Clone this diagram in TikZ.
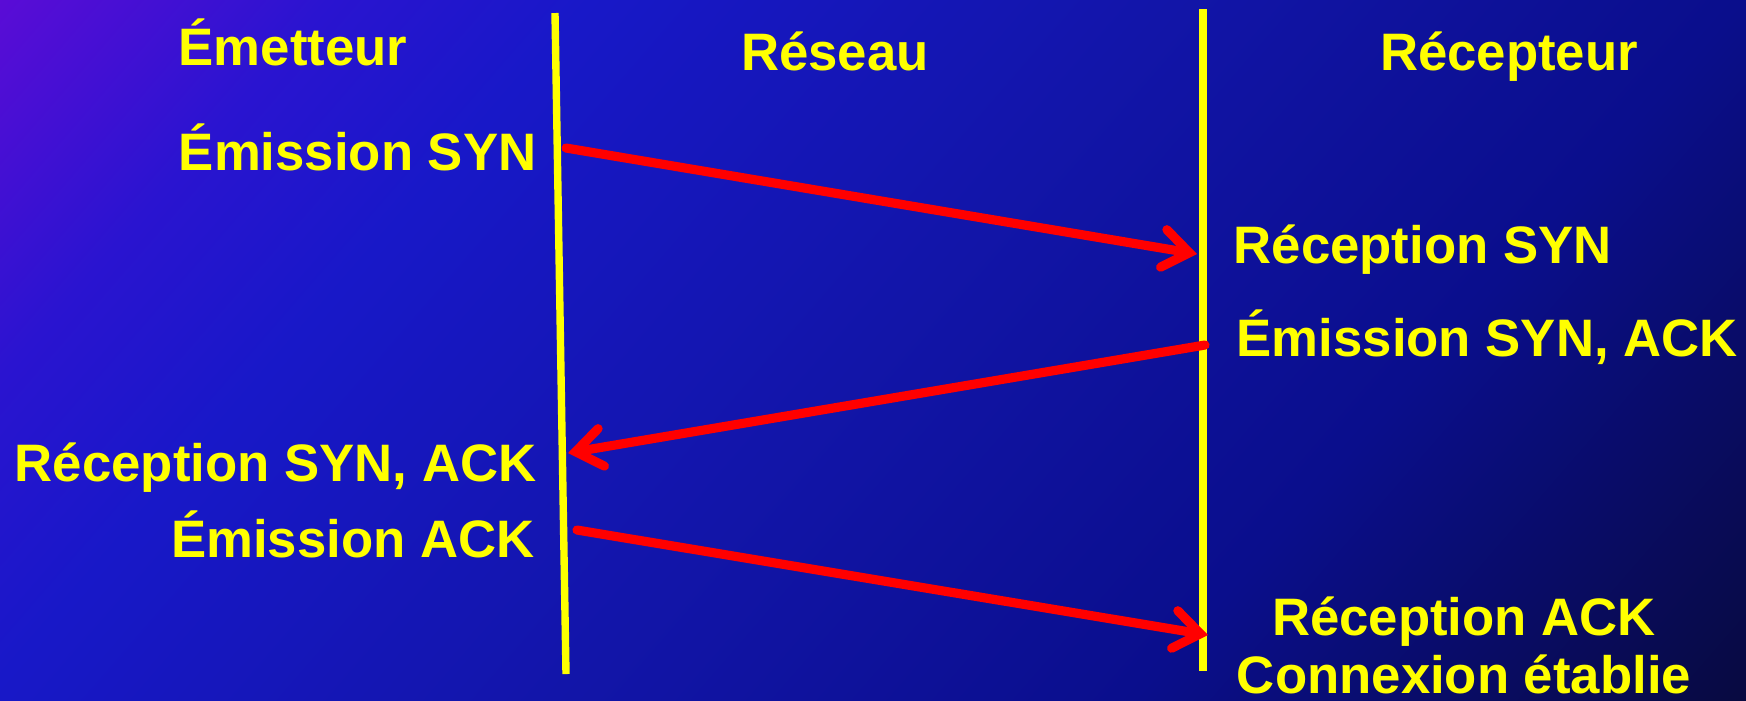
\documentclass[tikz,border=0pt]{standalone}
\usepackage{fontspec}
\setmainfont{Liberation Sans}
\usepackage{tikz}
\usetikzlibrary{arrows.meta, positioning, shadings}
\definecolor{bgPurple}{HTML}{5A0CD6}
\definecolor{bgViolet}{HTML}{2A14D0}
\definecolor{bgBlue}{HTML}{1818C8}
\definecolor{bgMid}{HTML}{1215A8}
\definecolor{bgNavy}{HTML}{0A0E8C}
\definecolor{bgDark}{HTML}{080A40}
\definecolor{lifeYellow}{HTML}{FFFF00}
\definecolor{msgRed}{HTML}{FF0000}
\pgfdeclarehorizontalshading{bgdiag}{100bp}{color(0bp)=(bgPurple); color(24.5bp)=(bgPurple);
  color(31.6bp)=(bgViolet); color(37.3bp)=(bgBlue); color(50bp)=(bgMid);
  color(62.2bp)=(bgNavy); color(75.5bp)=(bgDark); color(100bp)=(bgDark)}

\begin{document}
\begin{tikzpicture}[
  font=\fontsize{15}{18}\selectfont\bfseries,
  lbl/.style={text=lifeYellow, inner sep=0pt},
  life/.style={draw=lifeYellow, line width=2.1pt},
  msg/.style={draw=msgRed, line width=2.6pt, line cap=round,
              -{Straight Barb[length=2.6mm, width=3.8mm, line cap=round]}}
]
\useasboundingbox (0,0) rectangle (17.46,-7);
\begin{scope}
  \clip (0,0) rectangle (17.46,-7);
  \shade[shading=bgdiag, shading angle=-41] (0,5.23) rectangle (17.46,-12.23);
\end{scope}

% lignes de vie
\coordinate (emTop) at (5.55,-0.13);
\coordinate (emBot) at (5.66,-6.74);
\coordinate (reTop) at (12.03,-0.09);
\coordinate (reBot) at (12.03,-6.71);
\draw[life] (emTop) -- (emBot);
\draw[life] (reTop) -- (reBot);

% titres
\node[lbl, anchor=base west] (emetteur) at (1.78,-0.65) {Émetteur};
\node[lbl, anchor=base] (reseau) at (8.35,-0.70) {Réseau};
\node[lbl, anchor=base] (recepteur) at (15.09,-0.70) {Récepteur};

% evenements
\node[lbl, anchor=base east] (emSyn) at (5.37,-1.70) {Émission SYN};
\node[lbl, anchor=base west] (recSyn) at (12.33,-2.63) {Réception SYN};
\node[lbl, anchor=base west] (emSynAck) at (12.36,-3.56) {Émission SYN, ACK};
\node[lbl, anchor=base east] (recSynAck) at (5.37,-4.81) {Réception SYN, ACK};
\node[lbl, anchor=base east] (emAck) at (5.35,-5.57) {Émission ACK};
\node[lbl, anchor=base] (recAck) at (14.64,-6.35) {Réception ACK};
\node[lbl, anchor=base] (etablie) at (14.64,-6.93) {Connexion établie};

% messages
\coordinate (m1a) at (5.66,-1.48);
\coordinate (m1b) at (11.97,-2.54);
\coordinate (m2a) at (12.05,-3.45);
\coordinate (m2b) at (5.68,-4.53);
\coordinate (m3a) at (5.77,-5.30);
\coordinate (m3b) at (12.08,-6.35);
\draw[msg] (m1a) -- (m1b);
\draw[msg] (m2a) -- (m2b);
\draw[msg] (m3a) -- (m3b);
\end{tikzpicture}
\end{document}
